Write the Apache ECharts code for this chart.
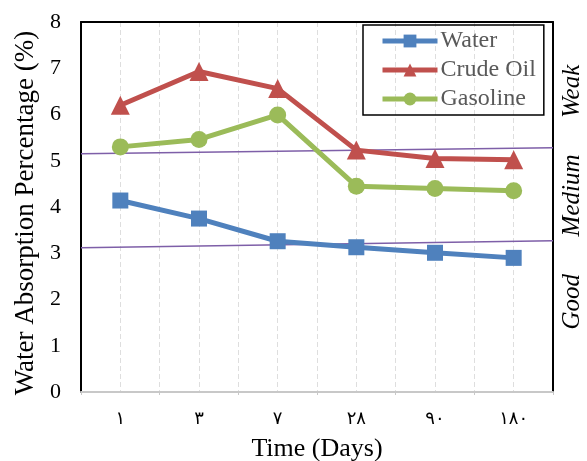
<!DOCTYPE html>
<html>
<head>
<meta charset="utf-8">
<script src="https://cdn.jsdelivr.net/npm/echarts@6/dist/echarts.min.js"></script>
<style>
html,body{margin:0;padding:0;background:#fff;}
#c{width:587px;height:461px;}
</style>
</head>
<body>
<div id="c"></div>
<script>
const categories = ['١', '٣', '٧', '٢٨', '٩٠', '١٨٠'];
const water = [4.14, 3.75, 3.26, 3.13, 3.01, 2.90];
const crudeOil = [6.20, 6.93, 6.56, 5.23, 5.05, 5.02];
const gasoline = [5.30, 5.46, 5.99, 4.45, 4.40, 4.35];
const yTicks = [0, 1, 2, 3, 4, 5, 6, 7, 8];
const upperLimit = [[0, 5.15], [12, 5.28]];
const lowerLimit = [[0, 3.12], [12, 3.27]];
const ratingLabels = [['Weak', 6.5], ['Medium', 4.25], ['Good', 1.95]];

const SERIF = '"Liberation Serif", "Times New Roman", serif';
const chart = echarts.init(document.getElementById('c'), null, {renderer: 'canvas'});

const option = {
  animation: false,
  backgroundColor: '#fff',
  grid: {left: 81, right: 34, top: 22, bottom: 69, containLabel: false, outerBoundsMode: 'none'},
  legend: {
    orient: 'vertical',
    left: 363, top: 25,
    padding: [4, 8, 4, 17],
    itemWidth: 55, itemHeight: 16, itemGap: 5,
    borderColor: '#000', borderWidth: 1.5,
    lineStyle: {width: 5},
    textStyle: {fontFamily: SERIF, fontSize: 24, color: '#595959', padding: [0, 0, 0, -2]},
    data: ['Water', 'Crude Oil', 'Gasoline']
  },
  xAxis: [{
    type: 'category',
    data: categories,
    boundaryGap: true,
    position: 'bottom',
    axisLine: {show: true, lineStyle: {color: '#c8c8c8', width: 2}},
    axisTick: {show: true, length: 3, lineStyle: {color: '#c8c8c8', width: 1}},
    axisLabel: {fontFamily: '"DejaVu Sans", sans-serif', fontSize: 18, color: '#000', margin: 18},
    splitLine: {show: false},
    name: 'Time (Days)',
    nameLocation: 'middle',
    nameGap: 44,
    nameTextStyle: {fontFamily: SERIF, fontSize: 26, color: '#000'}
  }, {
    type: 'value',
    position: 'top',
    min: 0, max: 12, interval: 1,
    axisLine: {show: true, onZero: false, lineStyle: {color: '#000', width: 2}},
    axisTick: {show: false},
    axisLabel: {show: false},
    splitLine: {show: true, lineStyle: {color: '#dedede', type: [5, 3], width: 1}}
  }],
  yAxis: [{
    type: 'value',
    min: 0, max: 8, interval: 1,
    position: 'left',
    axisLine: {show: true, lineStyle: {color: '#000', width: 2}},
    axisTick: {show: false},
    axisLabel: {
      fontFamily: SERIF, fontSize: 22, color: '#000', margin: 20,
      padding: [6, 0, 0, 0],
      formatter: v => yTicks.indexOf(v) >= 0 ? String(v) : ''
    },
    splitLine: {show: false},
    name: 'Water Absorption Percentage (%)',
    nameLocation: 'middle',
    nameGap: 38,
    nameTextStyle: {fontFamily: SERIF, fontSize: 27, color: '#000', padding: [0, 12, 0, 0]}
  }, {
    type: 'value',
    min: 0, max: 8, interval: 1,
    position: 'right',
    axisLine: {show: true, lineStyle: {color: '#000', width: 2}},
    axisTick: {show: false},
    axisLabel: {show: false},
    splitLine: {show: false}
  }],
  series: [{
    name: 'upper', type: 'line', xAxisIndex: 1, yAxisIndex: 0,
    data: upperLimit, symbol: 'none', silent: true,
    lineStyle: {color: '#7e5fa8', width: 1.5}, z: 1
  }, {
    name: 'lower', type: 'line', xAxisIndex: 1, yAxisIndex: 0,
    data: lowerLimit, symbol: 'none', silent: true,
    lineStyle: {color: '#7e5fa8', width: 1.5}, z: 1
  }, {
    name: 'Water', type: 'line', xAxisIndex: 0, yAxisIndex: 0,
    data: water, symbol: 'rect', symbolSize: 16,
    itemStyle: {color: '#4f81bd'}, lineStyle: {color: '#4f81bd', width: 5}, z: 3
  }, {
    name: 'Crude Oil', type: 'line', xAxisIndex: 0, yAxisIndex: 0,
    data: crudeOil, symbol: 'triangle', symbolSize: 19,
    itemStyle: {color: '#c0504d'}, lineStyle: {color: '#c0504d', width: 5}, z: 3
  }, {
    name: 'Gasoline', type: 'line', xAxisIndex: 0, yAxisIndex: 0,
    data: gasoline, symbol: 'circle', symbolSize: 17,
    itemStyle: {color: '#9bbb59'}, lineStyle: {color: '#9bbb59', width: 5}, z: 3
  }]
};
chart.setOption(option);

// rating labels at the right side, placed via the y scale
const graphics = ratingLabels.map(([txt, v]) => {
  const y = chart.convertToPixel({yAxisIndex: 0}, v);
  return {
    type: 'text',
    x: 572, y: y,
    rotation: Math.PI / 2,
    style: {
      text: txt,
      font: 'italic 25px ' + SERIF,
      fill: '#000',
      align: 'center',
      verticalAlign: 'middle'
    }
  };
});
chart.setOption({graphic: graphics});
</script>
</body>
</html>
